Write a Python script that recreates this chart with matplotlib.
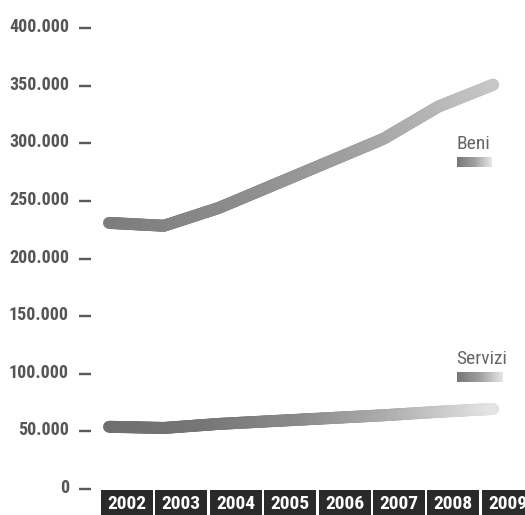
import numpy as np
import matplotlib
matplotlib.use("Agg")
import matplotlib.pyplot as plt
from matplotlib.collections import LineCollection
from matplotlib.colors import LinearSegmentedColormap
from matplotlib.patches import Rectangle
from matplotlib.transforms import ScaledTranslation

# Data (values in units)
years = ["2002", "2003", "2004", "2005", "2006", "2007", "2008", "2009"]
beni = [231000, 228500, 244000, 264000, 284000, 304000, 332000, 351000]
servizi = [54000, 53000, 56500, 59000, 61500, 64000, 67000, 69500]
ytick_values = [0, 50000, 100000, 150000, 200000, 250000, 300000, 350000, 400000]
ytick_labels = ["0", "50.000", "100.000", "150.000", "200.000", "250.000",
                "300.000", "350.000", "400.000"]

FONT = ["Roboto Condensed", "Archivo Narrow", "Liberation Sans", "DejaVu Sans"]
plt.rcParams["font.family"] = FONT

W, H = 525, 515
PT = 72 / 100  # points per pixel at 100 dpi
fig = plt.figure(figsize=(W / 100, H / 100), dpi=100)
fig.patch.set_facecolor("white")

ax_left_px = 101
ax = fig.add_axes([ax_left_px / W, 0, 1 - ax_left_px / W, 1])
ax.set_facecolor("white")

# pixel geometry of the plot
x0_px, step_px = 109, 54.9      # first point and spacing between years
y0_px, unit_px = 489, 57.6      # zero line and pixels per 50.000
box_step_px, box_w_px = 54.4, 52
ax.set_xlim((ax_left_px - x0_px) / step_px, (W - x0_px) / step_px)
ax.set_ylim(-(H - y0_px) / unit_px * 50000, y0_px / unit_px * 50000)

for s in ax.spines.values():
    s.set_visible(False)
ax.spines["left"].set_position(("outward", 10 * PT))
ax.set_xticks([])
ax.set_yticks(ytick_values)
ax.set_yticklabels(ytick_labels)
ax.tick_params(axis="y", direction="out", length=12 * PT, width=2.4 * PT,
               color="#5a5a5a", pad=10 * PT, labelsize=13, labelcolor="#555555")
for lab in ax.get_yticklabels():
    lab.set_fontweight("bold")
    lab.set_transform(lab.get_transform() + ScaledTranslation(0, 3 / 100, fig.dpi_scale_trans))


def gradient_line(values, cmap, lw):
    x = np.arange(len(values), dtype=float)
    y = np.asarray(values, dtype=float)
    n = 40
    pts_x, pts_y = [], []
    for i in range(len(x) - 1):
        t = np.linspace(0, 1, n, endpoint=False)
        pts_x.append(x[i] + t * (x[i + 1] - x[i]))
        pts_y.append(y[i] + t * (y[i + 1] - y[i]))
    pts_x.append([x[-1]])
    pts_y.append([y[-1]])
    px = np.concatenate(pts_x)
    py = np.concatenate(pts_y)
    segs = np.stack([np.column_stack([px[:-1], py[:-1]]),
                     np.column_stack([px[1:], py[1:]])], axis=1)
    frac = (px[:-1] - px[0]) / (px[-1] - px[0])
    lc = LineCollection(segs, colors=cmap(frac), linewidths=lw,
                        capstyle="round", joinstyle="round", zorder=3)
    ax.add_collection(lc)


beni_cmap = LinearSegmentedColormap.from_list(
    "beni", ["#7c7c7c", "#8c8c8c", "#a2a2a2", "#c6c6c6"])
servizi_cmap = LinearSegmentedColormap.from_list(
    "servizi", ["#6e6e6e", "#767676", "#8a8a8a", "#b0b0b0", "#e4e4e4"])

gradient_line(beni, beni_cmap, 12 * PT)
gradient_line(servizi, servizi_cmap, 12 * PT)

# year boxes along the bottom
box_off = (ax_left_px - x0_px) / step_px
box_step = box_step_px / step_px
box_w = box_w_px / step_px
box_top = -1 / unit_px * 50000
ybot = ax.get_ylim()[0]
for i, yr in enumerate(years):
    bx = box_off + i * box_step
    ax.add_patch(Rectangle((bx, ybot), box_w, box_top - ybot,
                           facecolor="#2a2a2a", edgecolor="none", zorder=4,
                           clip_on=False))
    ax.text(bx + box_w / 2, (ybot + box_top) / 2 - 1500, yr,
            ha="center", va="center", color="white", fontsize=14,
            fontweight="bold", zorder=5)


# legend entries with gradient swatches
def legend_entry(label, text_top_px, swatch_top_px, swatch_w_px, cmap):
    fig.text(456 / W, 1 - text_top_px / H, label, ha="left", va="top",
             fontsize=14, color="#666666")
    grad = np.linspace(0, 1, 64).reshape(1, -1)
    sax = fig.add_axes([457 / W, 1 - (swatch_top_px + 10) / H, swatch_w_px / W, 10 / H])
    sax.imshow(grad, aspect="auto", cmap=cmap, extent=[0, 1, 0, 1])
    sax.axis("off")


swatch_cmap = LinearSegmentedColormap.from_list("sw", ["#777777", "#a0a0a0", "#e6e6e6"])
legend_entry("Beni", 135, 157, 35, swatch_cmap)
legend_entry("Servizi", 350, 372, 46, swatch_cmap)

fig.savefig("out.png", dpi=100, facecolor="white")
